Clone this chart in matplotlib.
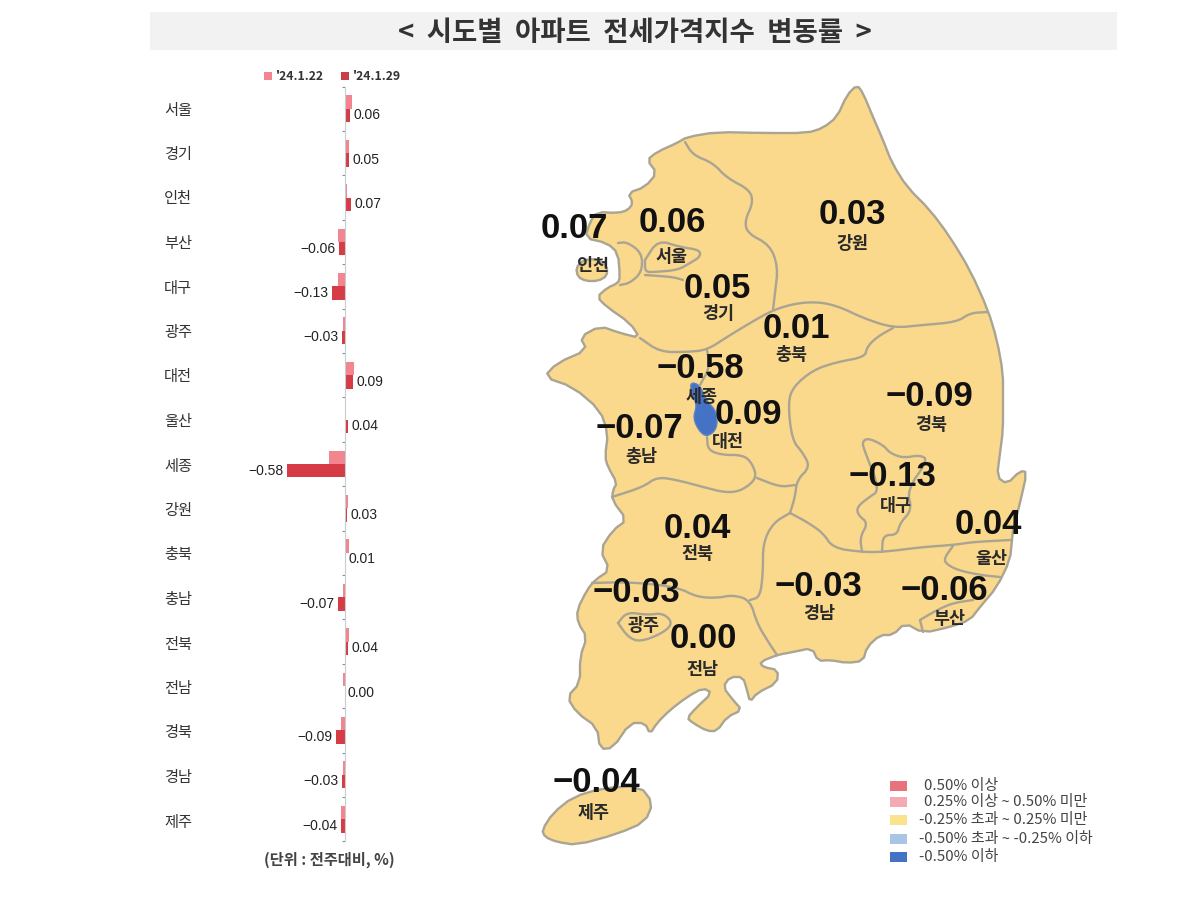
import numpy as np
import matplotlib
matplotlib.use('Agg')
import matplotlib.pyplot as plt
from matplotlib.patches import Polygon, Rectangle

plt.rcParams['font.family'] = ['Noto Sans CJK KR', 'DejaVu Sans']

# bar chart data
regions = ['서울', '경기', '인천', '부산', '대구', '광주', '대전', '울산', '세종',
           '강원', '충북', '충남', '전북', '전남', '경북', '경남', '제주']
prev_week = [0.08, 0.05, 0.03, -0.07, -0.07, -0.02, 0.10, 0.01, -0.16,
             0.04, 0.05, -0.02, 0.05, -0.02, -0.04, -0.02, -0.04]
this_week = [0.06, 0.05, 0.07, -0.06, -0.13, -0.03, 0.09, 0.04, -0.58,
             0.03, 0.01, -0.07, 0.04, 0.00, -0.09, -0.03, -0.04]
series_names = ["'24.1.22", "'24.1.29"]

legend_labels = ['0.50% 이상', '0.25% 이상 ~ 0.50% 미만', '-0.25% 초과 ~ 0.25% 미만',
                 '-0.50% 초과 ~ -0.25% 이하', '-0.50% 이하']
legend_colors = ['#e8737d', '#f4aab2', '#fbe38e', '#a9c4e6', '#4472c4']
legend_y = [786, 802, 820, 839, 857]
legend_x = [924, 924, 919, 919, 919]

# where each figure sits on the map, in image pixels
value_pos = {'서울': (672, 222), '경기': (717, 288), '인천': (574, 228), '부산': (944, 590),
             '대구': (892, 476), '광주': (636, 592), '대전': (748, 415), '울산': (988, 525),
             '세종': (700, 368), '강원': (852, 215), '충북': (796, 328), '충남': (639, 429),
             '전북': (697, 528), '전남': (703, 639), '경북': (929, 397), '경남': (818, 586),
             '제주': (596, 782)}
name_pos = {'서울': (672, 257), '경기': (718, 314), '인천': (593, 266), '부산': (949, 619),
            '대구': (896, 506), '광주': (644, 626), '대전': (728, 442), '울산': (991, 559),
            '세종': (702, 397), '강원': (852, 244), '충북': (791, 355), '충남': (641, 457),
            '전북': (697, 554), '전남': (702, 670), '경북': (931, 425), '경남': (819, 614),
            '제주': (594, 813)}

# map outlines, image pixels
mainland = [(857, 85), (863, 93), (873, 117), (883, 140), (892, 163), (907, 187), (930, 210),
            (950, 237), (970, 270), (988, 310), (997, 340), (1003, 373), (1003, 400), (1003, 430),
            (1000, 453), (997, 477), (1007, 484), (1020, 471), (1027, 472), (1020, 503), (1013, 530),
            (1012, 540), (1010, 560), (997, 587), (980, 607), (970, 620), (950, 627), (923, 633),
            (905, 623), (893, 635), (880, 635), (867, 647), (863, 661), (847, 663),
            (830, 660), (818, 661), (812, 648), (793, 652), (777, 655), (760, 662), (763, 667),
            (778, 670), (777, 683), (757, 693), (750, 702), (747, 690), (743, 677), (730, 677),
            (723, 687), (733, 700), (742, 710), (727, 717), (717, 731), (707, 731), (693, 723),
            (687, 718), (697, 707), (712, 693), (703, 688), (687, 697), (670, 710), (657, 723),
            (650, 734), (645, 723), (630, 723), (613, 748), (600, 749), (597, 727), (577, 713),
            (567, 697), (580, 683), (580, 657), (587, 637), (578, 623), (577, 610), (587, 590),
            (595, 580), (610, 570), (600, 550), (613, 530), (627, 520), (612, 500), (613, 490),
            (617, 483), (608, 467), (605, 457), (608, 433), (600, 410), (573, 387), (544, 377),
            (557, 363), (587, 350), (580, 337), (600, 326), (620, 333), (640, 338), (630, 323),
            (607, 307), (597, 297), (607, 288), (618, 283), (620, 277), (618, 253), (607, 243),
            (585, 238), (590, 222), (597, 212), (618, 213), (628, 210), (633, 203), (628, 193),
            (645, 187), (657, 173), (647, 160), (657, 152), (677, 143), (687, 137), (717, 132),
            (763, 133), (807, 133), (823, 128), (837, 117), (847, 95)]
jeju = [(542, 830), (553, 813), (573, 797), (603, 788), (640, 786), (653, 803), (645, 822),
        (617, 834), (577, 845), (557, 842), (545, 837)]
incheon_island = [(576, 268), (583, 260), (597, 259), (607, 266), (607, 276), (598, 281),
                  (586, 281), (578, 277)]
sejong = [(690, 382), (700, 385), (706, 400), (717, 412), (717, 429), (707, 437), (699, 431),
          (693, 418), (697, 405), (692, 395)]
borders = [
    [(685, 142), (693, 155), (713, 163), (727, 178), (750, 190), (753, 203), (745, 220),
     (747, 233), (770, 245), (778, 267), (775, 293), (773, 310)],
    [(640, 338), (660, 352), (687, 352), (707, 350), (727, 337), (750, 323), (773, 310),
     (797, 303), (820, 302), (840, 307), (863, 318), (893, 328), (923, 325), (957, 322),
     (970, 313), (988, 312)],
    [(893, 328), (877, 337), (867, 347), (865, 357), (837, 362), (813, 370), (793, 387),
     (788, 403), (792, 440), (803, 453), (810, 467), (797, 480), (795, 497), (790, 513)],
    [(707, 350), (710, 367), (700, 385)],
    [(612, 497), (643, 487), (657, 477), (677, 480), (703, 487), (727, 493), (743, 490),
     (757, 478), (752, 463), (743, 455), (722, 455), (708, 450), (707, 437)],
    [(757, 478), (780, 487), (795, 485)],
    [(790, 513), (773, 523), (763, 543), (763, 573), (760, 597), (750, 600)],
    [(592, 583), (630, 582), (677, 587), (697, 597), (717, 598), (733, 595), (750, 600),
     (757, 623), (767, 640), (777, 655)],
    [(790, 513), (807, 522), (823, 533), (833, 548), (862, 552), (883, 552), (923, 547),
     (953, 545), (973, 542), (1011, 540)],
    [(953, 546), (945, 557), (945, 563), (957, 570), (980, 575), (1000, 577)],
    [(920, 620), (937, 610), (953, 603), (973, 600)],
    [(920, 620), (923, 632)],
    [(862, 552), (860, 537), (868, 523), (858, 515), (857, 507), (868, 498), (880, 490),
     (865, 452), (862, 442), (868, 438), (883, 445), (890, 453), (903, 458), (920, 455),
     (928, 460), (907, 490), (912, 510), (900, 523), (897, 535), (883, 535), (882, 552)],
    [(618, 623), (627, 612), (647, 615), (663, 613), (673, 623), (663, 633), (640, 642),
     (628, 637), (618, 623)],
    [(645, 260), (658, 240), (680, 247), (700, 250), (700, 257), (690, 263), (678, 270),
     (655, 272), (645, 272), (645, 260)],
    [(618, 243), (627, 242), (642, 253), (642, 272), (630, 283), (620, 285)],
    [(645, 275), (673, 277), (683, 280)],
]


def smooth(points, closed=False, rounds=2):
    # corner cutting so the traced outlines are not so angular
    pts = np.array(points, dtype=float)
    for _ in range(rounds):
        a = np.roll(pts, -1, axis=0) if closed else pts[1:]
        b = pts if closed else pts[:-1]
        q = 0.75 * b + 0.25 * a
        r = 0.25 * b + 0.75 * a
        new = np.empty((len(q) * 2, 2))
        new[0::2] = q
        new[1::2] = r
        if not closed:
            new = np.vstack([pts[0], new, pts[-1]])
        pts = new
    return pts


W, H = 1200, 901
fig = plt.figure(figsize=(12, 9.01), dpi=100)

# overlay in image pixels for title, map and legends
bg = fig.add_axes([0, 0, 1, 1])
bg.set_xlim(0, W)
bg.set_ylim(H, 0)
bg.axis('off')

bg.add_patch(Rectangle((150, 12), 967, 38, color='#f2f2f2', lw=0))
bg.text(635, 33, '<  시도별  아파트  전세가격지수  변동률  >', ha='center', va='center',
        fontsize=19.8, fontweight='bold', color='#333333')

land = '#fad88c'
edge = '#aaa493'
for shape in [mainland, jeju, incheon_island]:
    bg.add_patch(Polygon(smooth(shape, closed=True, rounds=1), closed=True, fc=land, ec=edge,
                         lw=1.7, joinstyle='round'))
for line in borders:
    xs, ys = smooth(line).T
    bg.plot(xs, ys, color=edge, lw=1.7, solid_joinstyle='round', solid_capstyle='round')
bg.add_patch(Polygon(smooth(sejong, closed=True), closed=True, fc='#4472c4', ec='#5d82c0', lw=1))

for name, val in zip(regions, this_week):
    x, y = value_pos[name]
    bg.text(x, y, f'{val:.2f}'.replace('-', '−'), ha='center', va='center', fontsize=25,
            fontweight='bold', color='#111111', family=['Liberation Sans', 'DejaVu Sans'])
    x, y = name_pos[name]
    bg.text(x, y, name, ha='center', va='center', fontsize=12.5, fontweight='bold', color='#2a2a2a')

for label, color, y, x in zip(legend_labels, legend_colors, legend_y, legend_x):
    bg.add_patch(Rectangle((890, y - 5), 17, 10, color=color, lw=0))
    bg.text(x, y, label, ha='left', va='center', fontsize=10.8, color='#444444', fontweight='medium')

# bar panel, zero line at x=344.5 and 99 px per 1 point
left, right, top, bottom = 240, 420, 86.6, 841.4
ax = fig.add_axes([left / W, 1 - bottom / H, (right - left) / W, (bottom - top) / H])
ax.patch.set_alpha(0)
ax.set_xlim((left - 344.5) / 99, (right - 344.5) / 99)
ax.set_ylim(len(regions) - 0.5, -0.5)

pos = np.arange(len(regions))
h = 0.3
ax.barh(pos - h / 2, prev_week, height=h, color='#f2858f', label=series_names[0])
bars = ax.barh(pos + h / 2, this_week, height=h, color='#d63c46', label=series_names[1])
ax.bar_label(bars, labels=[f'{v:.2f}'.replace('-', '−') for v in this_week], padding=2.5,
             fontsize=10, color='#222222', family=['Liberation Sans', 'DejaVu Sans'])

for side in ['top', 'right', 'bottom']:
    ax.spines[side].set_visible(False)
ax.spines['left'].set_position(('data', 0))
ax.spines['left'].set_color('#c8ccd0')
ax.set_xticks([])
ax.set_yticks(np.arange(-0.5, len(regions), 1))
ax.set_yticklabels([])
ax.tick_params(axis='y', length=2.5, width=0.8, color='#8090a0', direction='out')

for i, name in enumerate(regions):
    bg.text(178, 110 + i * 44.5, name, ha='center', va='center', fontsize=11, color='#333333')

# bar legend and unit note
for x, color, label in zip([264, 341], ['#f2858f', '#c8404a'], series_names):
    bg.add_patch(Rectangle((x, 72), 8, 8, color=color, lw=0))
    bg.text(x + 12, 76, label, ha='left', va='center', fontsize=8.8, fontweight='bold', color='#333333')
bg.text(329, 860, '(단위 : 전주대비, %)', ha='center', va='center', fontsize=11,
        fontweight='bold', color='#444444')

fig.savefig('out.png', dpi=100)
